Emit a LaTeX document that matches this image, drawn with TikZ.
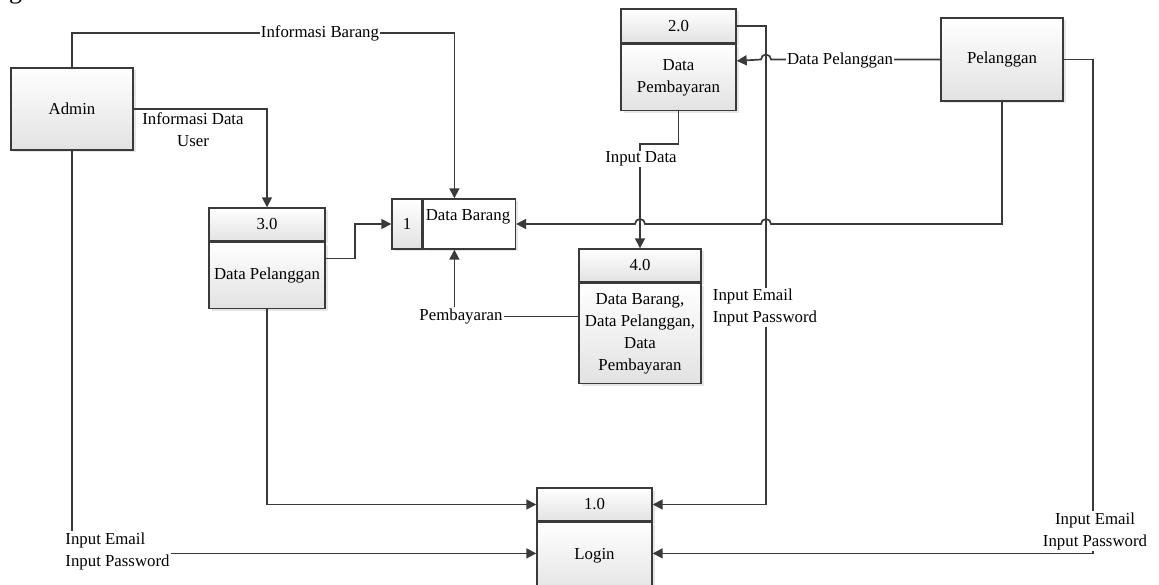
\documentclass[tikz,border=0pt]{standalone}
\usepackage{fontspec}
\setmainfont{Liberation Serif}
\usetikzlibrary{arrows.meta,shadows}

\definecolor{edge}{HTML}{3A3A3A}
\definecolor{boxbot}{HTML}{E2E2E2}

\tikzset{
  txt/.style={font=\fontsize{16.8}{22}\selectfont},
  box/.style={draw=edge, line width=1.4pt, top color=white, bottom color=boxbot,
    drop shadow={opacity=0.2, shadow xshift=2.5pt, shadow yshift=-2.5pt},
    inner sep=0pt, align=center, txt},
  storebox/.style={draw=edge, line width=1.4pt, fill=white,
    drop shadow={opacity=0.2, shadow xshift=2.5pt, shadow yshift=-2.5pt},
    inner sep=0pt},
  flow/.style={draw=edge, line width=1.7pt, -{Triangle[length=10pt,width=10pt]}},
  lbl/.style={fill=white, inner sep=1pt, align=center, txt},
  lbll/.style={fill=white, inner sep=1pt, align=left, txt},
}

\begin{document}
\begin{tikzpicture}[x=1pt, y=-1pt]
\useasboundingbox (0,0) rectangle (1159,585);

% caption glyph running off the top edge
\node[anchor=base west, inner sep=0pt, font=\fontsize{26}{30}\selectfont] (capg) at (9,-1) {g};

% external entities
\node[box, minimum width=122pt, minimum height=82pt] (admin) at (72,109) {Admin};
\node[box, minimum width=122pt, minimum height=83pt] (pel) at (1002,59.5) {Pelanggan};

% process 2.0
\node[box, minimum width=115pt, minimum height=34pt] (p2h) at (678.5,26) {2.0};
\node[box, minimum width=115pt, minimum height=66pt, anchor=north] (p2b) at (p2h.south) {Data\\Pembayaran};

% process 3.0
\node[box, minimum width=116pt, minimum height=33pt] (p3h) at (267,224.5) {3.0};
\node[box, minimum width=116pt, minimum height=66pt, anchor=north] (p3b) at (p3h.south) {Data Pelanggan};

% process 4.0
\node[box, minimum width=122pt, minimum height=33pt] (p4h) at (640,265.5) {4.0};
\node[box, minimum width=122pt, minimum height=100pt, anchor=north] (p4b) at (p4h.south) {Data Barang,\\Data Pelanggan,\\Data\\Pembayaran};

% process 1.0
\node[box, minimum width=115pt, minimum height=33pt] (p1h) at (594.5,504.5) {1.0};
\node[box, minimum width=115pt, minimum height=74pt, anchor=north] (p1b) at (p1h.south) {};
\node[txt, inner sep=0pt] (p1txt) at (594.5,556) {Login};

% data store
\node[box, minimum width=30pt, minimum height=50pt] (dsid) at (407,224) {1};
\node[storebox, minimum width=92pt, minimum height=50pt, anchor=west] (ds) at (dsid.east) {};
\node[txt, inner sep=0pt] (dstxt) at (468,217) {Data Barang};

% flows
\draw[flow] (admin.north) -- ++(0,-34) -| ([xshift=-15pt]ds.north);
\draw[flow] (admin.east) -| (p3h.north);
\draw[flow] ([yshift=17pt]p3b.east) -- ++(29,0) |- (dsid.west);
\draw[flow] (pel.south) -- (1002,224) -- (771,224) arc (0:180:5pt)
  -- (645,224) arc (0:180:5pt) -- (ds.east);
\draw[flow] (pel.west) -- (771,59.5) arc (0:180:5pt) -- ([yshift=16.5pt]p2b.east);
\draw[flow] (p2h.east) -- (766,26) |- (p1h.east);
\draw[flow] (p2b.south) -- ++(0,33) -| (p4h.north);
\draw[flow] ([yshift=17pt]p4b.west) -| ([xshift=-15pt]ds.south);
\draw[flow] (p3b.south) |- (p1h.west);
\draw[flow] (admin.south) |- ([yshift=6pt]p1b.west);
\draw[flow] (pel.east) -- (1093,59.5) |- ([yshift=6pt]p1b.east);

% flow labels
\node[lbl] (lInfoBarang) at (320,33) {Informasi Barang};
\node[txt, align=center, inner sep=0pt] (lInfoUser) at (193,129.5) {Informasi Data\\User};
\node[lbl] (lDataPel) at (840,60) {Data Pelanggan};
\node[lbl] (lInputData) at (641,159) {Input Data};
\node[lbl] (lBayar) at (461,316) {Pembayaran};
\node[lbll] (lLoginMid) at (765,307.5) {Input Email\\Input Password};
\node[lbll] (lLoginLeft) at (117.5,551) {Input Email\\Input Password};
\node[lbl] (lLoginRight) at (1095,531) {Input Email\\Input Password};
\end{tikzpicture}
\end{document}
